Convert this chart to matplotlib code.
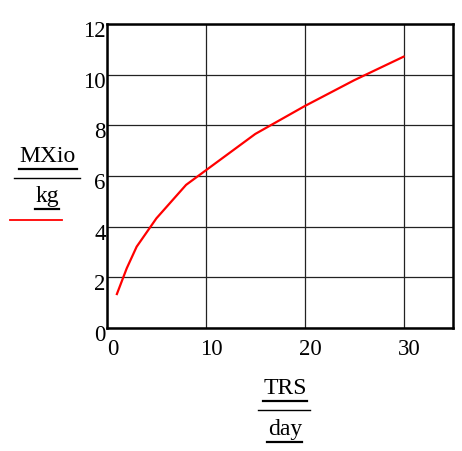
import matplotlib
matplotlib.use("Agg")
import matplotlib.pyplot as plt
from matplotlib.lines import Line2D
from matplotlib.transforms import ScaledTranslation

# data
trs_day = [1, 2, 3, 5, 8, 15, 20, 25, 30]
mxio_kg = [1.34, 2.36, 3.21, 4.33, 5.65, 7.66, 8.76, 9.78, 10.71]
x_ticks = [0, 10, 20, 30]
y_ticks = [0, 2, 4, 6, 8, 10, 12]

W, H = 462, 451
fig = plt.figure(figsize=(W / 100, H / 100), dpi=100)
plt.rcParams['font.family'] = ['Liberation Serif', 'DejaVu Serif']

def fx(px):
    return px / W

def fy(py):
    return 1 - py / H

ax = fig.add_axes([fx(107), fy(328), fx(453) - fx(107), fy(24) - fy(328)])
ax.plot(trs_day, mxio_kg, color='red', lw=1.6)
ax.set_xlim(0, 35)
ax.set_ylim(0, 12)
ax.set_xticks(x_ticks)
ax.set_yticks(y_ticks)
ax.grid(True, color='#222222', lw=0.9)
ax.tick_params(length=0, labelsize=16.5)
ax.tick_params(axis='x', pad=8)
ax.tick_params(axis='y', pad=1)
for s in ax.spines.values():
    s.set_linewidth(1.8)
    s.set_color('black')

# offset tick labels like Mathcad
for lab in ax.get_xticklabels():
    lab.set_transform(lab.get_transform() + ScaledTranslation(6 / 100, 0, fig.dpi_scale_trans))
for lab in ax.get_yticklabels():
    lab.set_transform(lab.get_transform() + ScaledTranslation(0, -5 / 100, fig.dpi_scale_trans))

def hline(x0, x1, y, color='black', lw=1.5):
    fig.add_artist(Line2D([fx(x0), fx(x1)], [fy(y), fy(y)], color=color, lw=lw,
                          transform=fig.transFigure))

# y label
fig.text(fx(47), fy(157), 'MXio', ha='center', va='center', fontsize=17)
hline(19, 77, 169, lw=1.6)
hline(14, 80, 178, lw=1.0)
fig.text(fx(47), fy(197), 'kg', ha='center', va='center', fontsize=17)
hline(35, 59, 209, lw=1.6)
hline(10, 62, 220, color='red', lw=1.3)

# x label
fig.text(fx(285), fy(389), 'TRS', ha='center', va='center', fontsize=17)
hline(263, 307, 401, lw=1.6)
hline(258, 310, 410, lw=1.0)
fig.text(fx(285), fy(429), 'day', ha='center', va='center', fontsize=17)
hline(267, 302, 442, lw=1.6)

fig.savefig('out.png', dpi=100)
